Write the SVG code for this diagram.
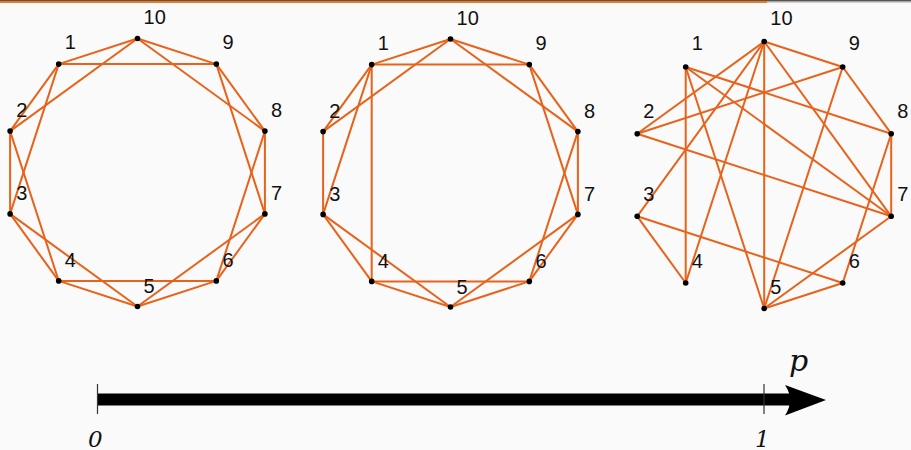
<svg xmlns="http://www.w3.org/2000/svg" width="911" height="450" viewBox="0 0 911 450">
<style>
.e{stroke:#e8621a;stroke-width:2;fill:none;stroke-linecap:round}
.d{fill:#000}
.l{font-family:"Liberation Sans",Arial,sans-serif;font-size:20px;fill:#111}
.ax{font-family:"DejaVu Serif","Liberation Serif",serif;font-style:italic;fill:#111}
.tk{stroke:#333;stroke-width:1.2}
</style>
<rect x="0" y="0" width="911" height="450" fill="#fafafa"/>
<rect x="0" y="0" width="911" height="2.5" fill="#a8a8a0"/>
<rect x="0" y="0" width="911" height="1" fill="#555"/>
<rect x="0" y="1" width="767" height="2" fill="#ea7a24"/>

<g id="edges-g1">
<line class="e" x1="58.7" y1="64.1" x2="10.1" y2="131.1"/>
<line class="e" x1="10.1" y1="131.1" x2="10.1" y2="213.9"/>
<line class="e" x1="10.1" y1="213.9" x2="58.7" y2="280.9"/>
<line class="e" x1="58.7" y1="280.9" x2="137.5" y2="306.5"/>
<line class="e" x1="137.5" y1="306.5" x2="216.3" y2="280.9"/>
<line class="e" x1="216.3" y1="280.9" x2="264.9" y2="213.9"/>
<line class="e" x1="264.9" y1="213.9" x2="264.9" y2="131.1"/>
<line class="e" x1="264.9" y1="131.1" x2="216.3" y2="64.1"/>
<line class="e" x1="216.3" y1="64.1" x2="137.5" y2="38.5"/>
<line class="e" x1="137.5" y1="38.5" x2="58.7" y2="64.1"/>
<line class="e" x1="58.7" y1="64.1" x2="10.1" y2="213.9"/>
<line class="e" x1="10.1" y1="131.1" x2="58.7" y2="280.9"/>
<line class="e" x1="10.1" y1="213.9" x2="137.5" y2="306.5"/>
<line class="e" x1="58.7" y1="280.9" x2="216.3" y2="280.9"/>
<line class="e" x1="137.5" y1="306.5" x2="264.9" y2="213.9"/>
<line class="e" x1="216.3" y1="280.9" x2="264.9" y2="131.1"/>
<line class="e" x1="264.9" y1="213.9" x2="216.3" y2="64.1"/>
<line class="e" x1="264.9" y1="131.1" x2="137.5" y2="38.5"/>
<line class="e" x1="216.3" y1="64.1" x2="58.7" y2="64.1"/>
<line class="e" x1="137.5" y1="38.5" x2="10.1" y2="131.1"/>
</g>

<g id="edges-g2">
<line class="e" x1="371.7" y1="64.6" x2="323.1" y2="131.6"/>
<line class="e" x1="323.1" y1="131.6" x2="323.1" y2="214.4"/>
<line class="e" x1="323.1" y1="214.4" x2="371.7" y2="281.4"/>
<line class="e" x1="371.7" y1="281.4" x2="450.5" y2="307"/>
<line class="e" x1="450.5" y1="307" x2="529.3" y2="281.4"/>
<line class="e" x1="529.3" y1="281.4" x2="577.9" y2="214.4"/>
<line class="e" x1="577.9" y1="214.4" x2="577.9" y2="131.6"/>
<line class="e" x1="577.9" y1="131.6" x2="529.3" y2="64.6"/>
<line class="e" x1="529.3" y1="64.6" x2="450.5" y2="39"/>
<line class="e" x1="450.5" y1="39" x2="371.7" y2="64.6"/>
<line class="e" x1="371.7" y1="64.6" x2="323.1" y2="214.4"/>
<line class="e" x1="371.7" y1="64.6" x2="371.7" y2="281.4"/>
<line class="e" x1="323.1" y1="214.4" x2="450.5" y2="307"/>
<line class="e" x1="371.7" y1="281.4" x2="529.3" y2="281.4"/>
<line class="e" x1="450.5" y1="307" x2="577.9" y2="214.4"/>
<line class="e" x1="529.3" y1="281.4" x2="577.9" y2="131.6"/>
<line class="e" x1="577.9" y1="214.4" x2="529.3" y2="64.6"/>
<line class="e" x1="577.9" y1="131.6" x2="450.5" y2="39"/>
<line class="e" x1="529.3" y1="64.6" x2="371.7" y2="64.6"/>
<line class="e" x1="450.5" y1="39" x2="323.1" y2="131.6"/>
</g>

<g id="edges-g3">
<line class="e" x1="764.2" y1="41.5" x2="842.7" y2="67"/>
<line class="e" x1="764.2" y1="41.5" x2="637.2" y2="133.7"/>
<line class="e" x1="764.2" y1="41.5" x2="637.2" y2="216.3"/>
<line class="e" x1="764.2" y1="41.5" x2="685.7" y2="283"/>
<line class="e" x1="764.2" y1="41.5" x2="764.2" y2="308.5"/>
<line class="e" x1="764.2" y1="41.5" x2="891.2" y2="216.3"/>
<line class="e" x1="685.7" y1="67" x2="685.7" y2="283"/>
<line class="e" x1="685.7" y1="67" x2="764.2" y2="308.5"/>
<line class="e" x1="685.7" y1="67" x2="891.2" y2="133.7"/>
<line class="e" x1="685.7" y1="67" x2="891.2" y2="216.3"/>
<line class="e" x1="637.2" y1="133.7" x2="842.7" y2="67"/>
<line class="e" x1="637.2" y1="133.7" x2="891.2" y2="216.3"/>
<line class="e" x1="637.2" y1="216.3" x2="685.7" y2="283"/>
<line class="e" x1="637.2" y1="216.3" x2="842.7" y2="283"/>
<line class="e" x1="842.7" y1="67" x2="891.2" y2="133.7"/>
<line class="e" x1="842.7" y1="67" x2="764.2" y2="308.5"/>
<line class="e" x1="891.2" y1="133.7" x2="891.2" y2="216.3"/>
<line class="e" x1="891.2" y1="133.7" x2="842.7" y2="283"/>
<line class="e" x1="891.2" y1="216.3" x2="764.2" y2="308.5"/>
<line class="e" x1="842.7" y1="283" x2="764.2" y2="308.5"/>
</g>

<g id="g1-n1"><circle class="d" cx="58.7" cy="64.1" r="2.8"/><text class="l" x="64.8" y="49">1</text></g>
<g id="g1-n2"><circle class="d" cx="10.1" cy="131.1" r="2.8"/><text class="l" x="16.2" y="117">2</text></g>
<g id="g1-n3"><circle class="d" cx="10.1" cy="213.9" r="2.8"/><text class="l" x="16.2" y="200">3</text></g>
<g id="g1-n4"><circle class="d" cx="58.7" cy="280.9" r="2.8"/><text class="l" x="64.8" y="267">4</text></g>
<g id="g1-n5"><circle class="d" cx="137.5" cy="306.5" r="2.8"/><text class="l" x="143.6" y="293">5</text></g>
<g id="g1-n6"><circle class="d" cx="216.3" cy="280.9" r="2.8"/><text class="l" x="222.4" y="267">6</text></g>
<g id="g1-n7"><circle class="d" cx="264.9" cy="213.9" r="2.8"/><text class="l" x="271" y="200">7</text></g>
<g id="g1-n8"><circle class="d" cx="264.9" cy="131.1" r="2.8"/><text class="l" x="271" y="117">8</text></g>
<g id="g1-n9"><circle class="d" cx="216.3" cy="64.1" r="2.8"/><text class="l" x="222.4" y="49">9</text></g>
<g id="g1-n10"><circle class="d" cx="137.5" cy="38.5" r="2.8"/><text class="l" x="143.6" y="24">10</text></g>

<g id="g2-n1"><circle class="d" cx="371.7" cy="64.6" r="2.8"/><text class="l" x="377.8" y="49.5">1</text></g>
<g id="g2-n2"><circle class="d" cx="323.1" cy="131.6" r="2.8"/><text class="l" x="329.2" y="117.5">2</text></g>
<g id="g2-n3"><circle class="d" cx="323.1" cy="214.4" r="2.8"/><text class="l" x="329.2" y="200.5">3</text></g>
<g id="g2-n4"><circle class="d" cx="371.7" cy="281.4" r="2.8"/><text class="l" x="377.8" y="267.5">4</text></g>
<g id="g2-n5"><circle class="d" cx="450.5" cy="307" r="2.8"/><text class="l" x="456.6" y="293.5">5</text></g>
<g id="g2-n6"><circle class="d" cx="529.3" cy="281.4" r="2.8"/><text class="l" x="535.4" y="267.5">6</text></g>
<g id="g2-n7"><circle class="d" cx="577.9" cy="214.4" r="2.8"/><text class="l" x="584" y="200.5">7</text></g>
<g id="g2-n8"><circle class="d" cx="577.9" cy="131.6" r="2.8"/><text class="l" x="584" y="117.5">8</text></g>
<g id="g2-n9"><circle class="d" cx="529.3" cy="64.6" r="2.8"/><text class="l" x="535.4" y="49.5">9</text></g>
<g id="g2-n10"><circle class="d" cx="450.5" cy="39" r="2.8"/><text class="l" x="456.6" y="24.5">10</text></g>

<g id="g3-n1"><circle class="d" cx="685.7" cy="67" r="2.8"/><text class="l" x="691.8" y="50">1</text></g>
<g id="g3-n2"><circle class="d" cx="637.2" cy="133.7" r="2.8"/><text class="l" x="643.3" y="118">2</text></g>
<g id="g3-n3"><circle class="d" cx="637.2" cy="216.3" r="2.8"/><text class="l" x="643.3" y="201">3</text></g>
<g id="g3-n4"><circle class="d" cx="685.7" cy="283" r="2.8"/><text class="l" x="691.8" y="268">4</text></g>
<g id="g3-n5"><circle class="d" cx="764.2" cy="308.5" r="2.8"/><text class="l" x="770.3" y="294">5</text></g>
<g id="g3-n6"><circle class="d" cx="842.7" cy="283" r="2.8"/><text class="l" x="848.8" y="268">6</text></g>
<g id="g3-n7"><circle class="d" cx="891.2" cy="216.3" r="2.8"/><text class="l" x="897.3" y="201">7</text></g>
<g id="g3-n8"><circle class="d" cx="891.2" cy="133.7" r="2.8"/><text class="l" x="897.3" y="118">8</text></g>
<g id="g3-n9"><circle class="d" cx="842.7" cy="67" r="2.8"/><text class="l" x="848.8" y="50">9</text></g>
<g id="g3-n10"><circle class="d" cx="764.2" cy="41.5" r="2.8"/><text class="l" x="770.3" y="25">10</text></g>

<g id="axis">
<rect x="97.5" y="393.5" width="693" height="12" fill="#000"/>
<path d="M826,400 L785,385 Q795,400 785,415.5 Z" fill="#000"/>
<line class="tk" x1="97.5" y1="384" x2="97.5" y2="414"/>
<line class="tk" x1="764" y1="384" x2="764" y2="414"/>
<text class="ax" x="88" y="447" style="font-size:23px">0</text>
<text class="ax" x="755" y="447" style="font-size:23px">1</text>
<text class="ax" x="789" y="371" style="font-size:30px">p</text>
</g>
</svg>
